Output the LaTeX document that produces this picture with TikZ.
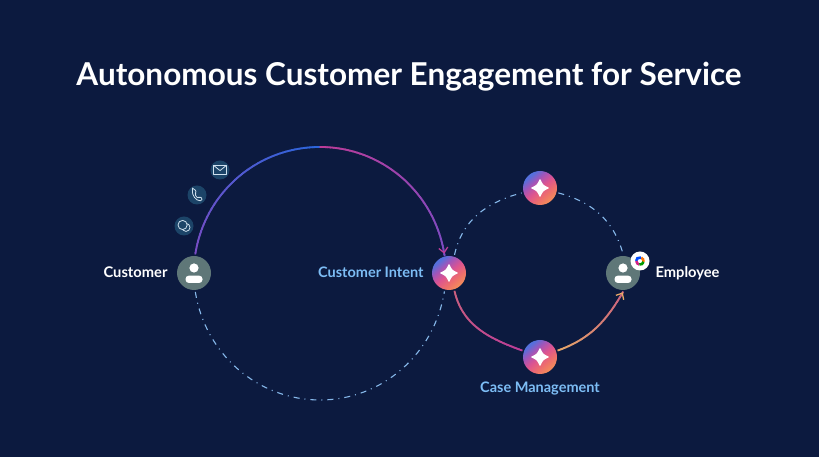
\documentclass[tikz,border=0pt]{standalone}
\usepackage{fontspec}
\setmainfont{Lato}
\usetikzlibrary{arrows.meta,positioning,decorations.markings}

\definecolor{bgblue}{HTML}{0C1A3F}
\definecolor{labelblue}{HTML}{7DBDF5}
\definecolor{dashblue}{HTML}{86B8EA}
\definecolor{persongrey}{HTML}{5F7778}
\definecolor{badgeblue}{HTML}{1C4468}
\definecolor{glyphblue}{HTML}{CFE0EE}
\definecolor{arcblue}{HTML}{2A66DC}
\definecolor{arcpurple}{HTML}{7A4CC4}
\definecolor{arcmagenta}{HTML}{BC3C98}
\definecolor{arcrose}{HTML}{C9607F}
\definecolor{arctan}{HTML}{E8A868}
\definecolor{sparkA}{HTML}{5470DC}
\definecolor{sparkB}{HTML}{A355B8}
\definecolor{sparkC}{HTML}{DD5490}
\definecolor{sparkD}{HTML}{EE6F6C}
\definecolor{sparkE}{HTML}{F28A5C}

\pgfdeclarehorizontalshading{sparkshade}{100bp}{
  color(0bp)=(sparkA);
  color(27bp)=(sparkA);
  color(38bp)=(sparkB);
  color(50bp)=(sparkC);
  color(63bp)=(sparkD);
  color(73bp)=(sparkE);
  color(100bp)=(sparkE)}

\tikzset{
  title/.style={text=white,font=\fontsize{31.5}{34}\selectfont\bfseries},
  who/.style={text=white,text height=10pt,text depth=3pt,font=\fontsize{14.7}{16}\selectfont\bfseries},
  stage/.style={text=labelblue,text height=10pt,text depth=3pt,font=\fontsize{14.5}{16}\selectfont\bfseries},
  person/.style={circle,fill=persongrey,minimum size=34pt,inner sep=0pt,outer sep=2pt,
    path picture={
      \fill[white,shift={(path picture bounding box.center)}] (0,5) circle (4.6pt);
      \fill[white,rounded corners=3.4pt,shift={(path picture bounding box.center)}] (-8.5,-10) rectangle (8.5,-2.6);
    }},
  spark/.style={circle,shading=sparkshade,shading angle=-50,minimum size=34pt,inner sep=0pt,outer sep=2pt,
    path picture={
      \filldraw[white,line width=1.4pt,line join=round,shift={(path picture bounding box.center)}]
        (0,8) .. controls (1.6,3.6) and (3.6,1.6) .. (8,0)
        .. controls (3.6,-1.6) and (1.6,-3.6) .. (0,-8)
        .. controls (-1.6,-3.6) and (-3.6,-1.6) .. (-8,0)
        .. controls (-3.6,1.6) and (-1.6,3.6) .. (0,8) -- cycle;
    }},
  channel/.style={circle,fill=badgeblue,minimum size=19pt,inner sep=0pt},
  glyph/.style={draw=glyphblue,line width=0.8pt,line join=round},
  idle/.style={draw=dashblue,line width=1.1pt,dash pattern=on 6pt off 5pt on 1pt off 5pt},
  live/.style 2 args={postaction={decorate,decoration={markings,
    mark=between positions 0 and 1 step 1.5pt with {
      \pgfmathsetmacro{\mixval}{100-\pgfkeysvalueof{/pgf/decoration/mark info/distance from start}/\pgfdecoratedpathlength*100}
      \draw[#2!\mixval!#1,line width=1.8pt] (-0.4pt,0) -- (1.9pt,0);
    }}}},
  tip/.style={postaction={decorate,decoration={markings,
    mark=at position 0.995 with {\arrow[#1,line width=1.3pt]{Straight Barb[length=5pt,width=9pt]}}}}}
}

\begin{document}
\begin{tikzpicture}[x=1pt,y=1pt]
\path[use as bounding box,fill=bgblue] (0,0) rectangle (819,457);

\node[title] (heading) at (409,380) {Autonomous Customer Engagement for Service};

% people and stages
\node[person] (customer) at (194,184) {};
\node[person] (employee) at (623,184) {};
\node[spark] (intent) at (449,184) {};
\node[spark] (agent) at (540,269) {};
\node[spark] (casework) at (540,100) {};

\node[who,left=4pt of customer,yshift=-1pt] (customerlabel) {Customer};
\node[who,right=10pt of employee,yshift=-1pt] (employeelabel) {Employee};
\node[stage,left=3pt of intent,yshift=-1pt] (intentlabel) {Customer Intent};
\node[stage,below=3pt of casework] (caselabel) {Case Management};

% large loop
\coordinate (looptop) at (320,310);
\coordinate (loopbottom) at (320,57);
\path[live={arcblue}{arcpurple}] (customer.86) to[out=81,in=180,looseness=0.97] (looptop);
\path[live={arcpurple}{arcmagenta},tip=arcmagenta] (looptop) to[out=0,in=99,looseness=0.97] (intent.104);
\draw[idle] (customer.-86) to[out=-81,in=180,looseness=0.97] (loopbottom) to[out=0,in=-99,looseness=0.97] (intent.-104);

% small loop
\draw[idle] (intent.73) to[out=78,in=195] (agent);
\draw[idle] (agent) to[out=-15,in=105] (employee.90);
\path[live={arcmagenta}{arcrose}] (intent.-73) to[out=-77,in=160] (casework);
\path[live={arcrose}{arctan},tip=arctan] (casework) to[out=20,in=-120] (employee.-90);

% channels
\node[channel] (mail) at (220,287) {};
\node[channel] (phone) at (197,262) {};
\node[channel] (chat) at (184,231) {};

% mail glyph
\draw[glyph] ([shift={(-6.4,-4.6)}]mail.center) rectangle ([shift={(6.4,4.6)}]mail.center);
\draw[glyph] ([shift={(-6.4,4.6)}]mail.center) -- ([shift={(0,-0.6)}]mail.center) -- ([shift={(6.4,4.6)}]mail.center);

% phone glyph
\draw[glyph,rounded corners=1.2pt] ([shift={(-4.4,5.8)}]phone.center) -- ([shift={(-1.8,5.8)}]phone.center)
  -- ([shift={(-0.8,2.2)}]phone.center) -- ([shift={(-2,1)}]phone.center)
  .. controls ([shift={(-1,-1.4)}]phone.center) and ([shift={(0,-2.4)}]phone.center) .. ([shift={(1.6,-3)}]phone.center)
  -- ([shift={(2.8,-1.8)}]phone.center) -- ([shift={(5.2,-3)}]phone.center) -- ([shift={(4.6,-5.8)}]phone.center)
  .. controls ([shift={(-1,-6)}]phone.center) and ([shift={(-5.4,0)}]phone.center) .. cycle;

% chat glyph
\draw[glyph] ([shift={(2,-1.4)}]chat.center) circle (4pt);
\draw[glyph,fill=badgeblue] ([shift={(-1.4,1)}]chat.center) circle (4.6pt);

% helper badge
\node[circle,fill=white,minimum size=19pt,inner sep=0pt] (helper) at (640,196) {};
\draw[line width=2.6pt,orange!90!red] ([shift={(3.4,-1)}]helper.center) arc[start angle=-15,end angle=70,radius=3.6pt];
\draw[line width=2.6pt,blue!70!cyan] ([shift={(1,3.4)}]helper.center) arc[start angle=70,end angle=180,radius=3.6pt];
\draw[line width=2.6pt,magenta!70!violet] ([shift={(-3.6,0)}]helper.center) arc[start angle=180,end angle=260,radius=3.6pt];
\draw[line width=2.6pt,green!60!black] ([shift={(-0.6,-3.5)}]helper.center) arc[start angle=260,end angle=345,radius=3.6pt];
\end{tikzpicture}
\end{document}
